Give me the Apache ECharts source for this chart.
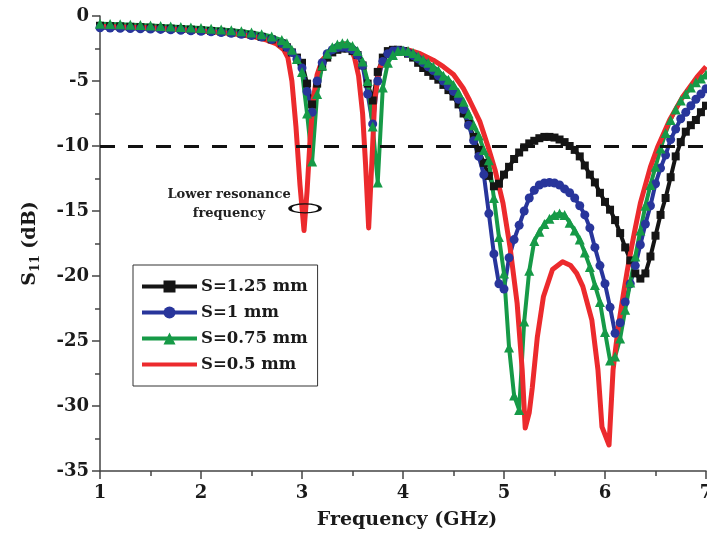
<!DOCTYPE html>
<html>
<head>
<meta charset="utf-8">
<script src="https://cdn.jsdelivr.net/npm/echarts@6/dist/echarts.min.js"></script>
<style>
  html, body { margin: 0; padding: 0; background: #fff; }
  #chart { width: 707px; height: 537px; }
</style>
</head>
<body>
<div id="chart"></div>
<script>
// frequency points (GHz) shared by the three marker curves
var freq = [1.0, 1.1, 1.2, 1.3, 1.4, 1.5, 1.6, 1.7, 1.8, 1.9, 2.0, 2.1, 2.2, 2.3, 2.4, 2.5, 2.6, 2.7, 2.8,
  2.85, 2.9, 2.95, 3.0, 3.05, 3.1, 3.15, 3.2, 3.25, 3.3, 3.35, 3.4, 3.45, 3.5, 3.55, 3.6, 3.65, 3.7, 3.75, 3.8, 3.85, 3.9, 3.95, 4.0,
  4.05, 4.1, 4.15, 4.2, 4.25, 4.3, 4.35, 4.4, 4.45, 4.5, 4.55, 4.6, 4.65, 4.7, 4.75, 4.8, 4.85, 4.9, 4.95, 5.0,
  5.05, 5.1, 5.15, 5.2, 5.25, 5.3, 5.35, 5.4, 5.45, 5.5, 5.55, 5.6, 5.65, 5.7, 5.75, 5.8, 5.85, 5.9, 5.95, 6.0,
  6.05, 6.1, 6.15, 6.2, 6.25, 6.3, 6.35, 6.4, 6.45, 6.5, 6.55, 6.6, 6.65, 6.7, 6.75, 6.8, 6.85, 6.9, 6.95, 7.0]

// S = 1.25 mm
var s125 = [-0.75, -0.78, -0.8, -0.83, -0.86, -0.9, -0.93, -0.97, -1.0, -1.05, -1.1, -1.15, -1.2, -1.27, -1.35, -1.45, -1.6, -1.8, -2.1,
  -2.4, -2.8, -3.2, -3.6, -5.2, -6.8, -5.2, -3.9, -3.2, -2.8, -2.6, -2.5, -2.5, -2.7, -3.0, -3.8, -5.2, -6.5, -4.3, -3.2, -2.7, -2.6, -2.6, -2.7,
  -2.9, -3.2, -3.6, -4.0, -4.3, -4.6, -4.9, -5.3, -5.7, -6.2, -6.8, -7.5, -8.3, -9.3, -10.3, -11.3, -12.3, -13.1, -12.9, -12.2,
  -11.6, -11.0, -10.5, -10.1, -9.8, -9.6, -9.4, -9.3, -9.3, -9.35, -9.5, -9.7, -10.0, -10.3, -10.8, -11.5, -12.2, -12.8, -13.6, -14.3,
  -14.9, -15.7, -16.7, -17.8, -18.8, -19.8, -20.2, -19.8, -18.5, -16.9, -15.3, -14.0, -12.4, -10.8, -9.7, -8.9, -8.4, -8.0, -7.4, -6.9]

// S = 1 mm
var s100 = [-0.9, -0.92, -0.94, -0.96, -0.98, -1.0, -1.03, -1.06, -1.1, -1.14, -1.18, -1.22, -1.27, -1.33, -1.4, -1.5, -1.62, -1.8, -2.1,
  -2.4, -2.8, -3.3, -4.0, -5.8, -7.4, -5.0, -3.6, -2.9, -2.6, -2.45, -2.4, -2.45, -2.6, -3.0, -3.8, -6.0, -8.3, -5.0, -3.5, -2.9, -2.7, -2.65, -2.7,
  -2.85, -3.05, -3.3, -3.6, -3.9, -4.2, -4.6, -5.0, -5.4, -5.8, -6.4, -7.2, -8.4, -9.6, -10.8, -12.2, -15.2, -18.3, -20.6, -21.0,
  -18.6, -17.2, -16.1, -15.0, -14.0, -13.4, -13.0, -12.85, -12.8, -12.85, -13.0, -13.3, -13.6, -14.0, -14.6, -15.3, -16.3, -17.8, -19.2, -20.6,
  -22.4, -24.4, -23.6, -22.0, -20.6, -19.2, -17.6, -16.0, -14.6, -12.9, -11.7, -10.7, -9.5, -8.7, -7.9, -7.4, -6.9, -6.4, -6.0, -5.6]

// S = 0.75 mm
var s075 = [-0.6, -0.62, -0.64, -0.67, -0.7, -0.73, -0.76, -0.8, -0.84, -0.88, -0.93, -0.98, -1.04, -1.1, -1.18, -1.27, -1.4, -1.58, -1.85,
  -2.1, -2.6, -3.3, -4.3, -7.5, -11.2, -6.0, -3.8, -2.9, -2.4, -2.2, -2.1, -2.1, -2.3, -2.7, -3.5, -5.0, -8.5, -12.8, -5.5, -3.6, -3.0, -2.7, -2.65,
  -2.7, -2.85, -3.1, -3.35, -3.6, -3.9, -4.2, -4.6, -4.9, -5.3, -5.9, -6.6, -7.5, -8.4, -9.2, -10.3, -11.1, -14.0, -17.0, -19.8,
  -25.5, -29.2, -30.3, -23.5, -19.6, -17.3, -16.6, -16.0, -15.6, -15.3, -15.2, -15.3, -15.9, -16.5, -17.2, -18.2, -19.3, -20.7, -22.0, -24.3,
  -26.5, -26.2, -24.8, -22.6, -20.5, -18.5, -16.5, -14.6, -13.0, -11.6, -10.2, -9.0, -8.0, -7.2, -6.5, -6.0, -5.5, -5.1, -4.8, -4.5]

// S = 0.5 mm (plain line, own frequency points)
var freq050 = [1.0, 1.5, 2.0, 2.3, 2.5, 2.65, 2.75, 2.82, 2.86, 2.9, 2.94, 2.98, 3.02, 3.05, 3.08, 3.11, 3.15, 3.2, 3.28, 3.35,
  3.42, 3.48, 3.52, 3.56, 3.6, 3.63, 3.66, 3.69, 3.72, 3.76, 3.82, 3.9, 3.97, 4.05, 4.17, 4.3, 4.4, 4.5, 4.6, 4.66,
  4.76, 4.84, 4.91, 4.99, 5.06, 5.13, 5.18, 5.21, 5.25, 5.28, 5.33, 5.39, 5.48, 5.58, 5.66, 5.72, 5.78, 5.87, 5.93, 5.97,
  6.04, 6.08, 6.13, 6.18, 6.22, 6.26, 6.3, 6.35, 6.45, 6.52, 6.64, 6.77, 6.91, 7.0]
var s050 = [-0.8, -0.9, -1.15, -1.35, -1.55, -1.85, -2.15, -2.6, -3.2, -5.0, -8.5, -13.0, -16.5, -13.5, -9.5, -6.5, -4.5, -3.4, -2.7, -2.3,
  -2.2, -2.5, -3.2, -4.6, -7.5, -11.5, -16.3, -11.5, -6.5, -4.2, -3.1, -2.65, -2.55, -2.6, -2.9, -3.4, -3.9, -4.5, -5.6, -6.5,
  -8.1, -10.0, -11.8, -14.4, -17.8, -22.1, -27.2, -31.7, -30.5, -28.6, -24.7, -21.6, -19.5, -18.9, -19.2, -19.8, -20.8, -23.4, -27.2, -31.6,
  -33.0, -27.2, -24.0, -21.5, -19.6, -17.9, -16.3, -14.4, -11.6, -10.1, -8.0, -6.2, -4.7, -3.9]

var seriesNames = ['S=1.25 mm', 'S=1 mm', 'S=0.75 mm', 'S=0.5 mm']
var threshold = -10
var notePoint = [3.03, -14.8]

function pairs (xs, ys) {
  return xs.map(function (x, i) { return [x, ys[i]] })
}

var serif = '"DejaVu Serif", "Liberation Serif", serif'

var chart = echarts.init(document.getElementById('chart'))
chart.setOption({
  backgroundColor: '#ffffff',
  animation: false,
  grid: {
    left: 100,
    right: 1,
    top: 16,
    bottom: 66,
    outerBoundsMode: 'none'
  },
  legend: {
    orient: 'vertical',
    left: 133,
    top: 265,
    padding: [13, 10, 13, 7],
    itemGap: 9,
    itemWidth: 55,
    itemHeight: 15,
    borderColor: '#333',
    borderWidth: 1,
    backgroundColor: '#fff',
    lineStyle: { width: 4 },
    textStyle: {
      fontFamily: serif,
      fontWeight: 'bold',
      fontSize: 16.5,
      color: '#1a1a1a',
      padding: [0, 0, 0, -1]
    },
    data: [
      { name: seriesNames[0] },
      { name: seriesNames[1] },
      { name: seriesNames[2] },
      { name: seriesNames[3], itemStyle: { opacity: 0 } }
    ]
  },
  xAxis: {
    type: 'value',
    min: 1,
    max: 7,
    interval: 1,
    name: 'Frequency (GHz)',
    nameLocation: 'middle',
    nameGap: 40,
    nameTextStyle: {
      fontFamily: serif,
      fontWeight: 'bold',
      fontSize: 19,
      color: '#1a1a1a',
      padding: [0, 0, 0, 8]
    },
    axisLine: { show: true, onZero: false, lineStyle: { color: '#444', width: 1.5 } },
    axisTick: { show: true, inside: false, length: 8, lineStyle: { color: '#444', width: 1.5 } },
    minorTick: { show: true, splitNumber: 2, length: 5, lineStyle: { color: '#444', width: 1.5 } },
    splitLine: { show: false },
    axisLabel: {
      fontFamily: serif,
      fontWeight: 'bold',
      fontSize: 18,
      color: '#1a1a1a',
      margin: 13
    }
  },
  yAxis: {
    type: 'value',
    min: -35,
    max: 0,
    interval: 5,
    name: '{s|S}{sub|11}{s| (dB)}',
    nameLocation: 'middle',
    nameGap: 58,
    nameTextStyle: {
      rich: {
        s: { fontFamily: serif, fontWeight: 'bold', fontSize: 19, color: '#1a1a1a' },
        sub: { fontFamily: serif, fontWeight: 'bold', fontSize: 12, color: '#1a1a1a', padding: [12, 0, 0, 0] }
      }
    },
    axisLine: { show: true, onZero: false, lineStyle: { color: '#444', width: 1.5 } },
    axisTick: { show: true, inside: false, length: 8, lineStyle: { color: '#444', width: 1.5 } },
    minorTick: { show: true, splitNumber: 2, length: 5, lineStyle: { color: '#444', width: 1.5 } },
    splitLine: { show: false },
    axisLabel: {
      fontFamily: serif,
      fontWeight: 'bold',
      fontSize: 18,
      color: '#1a1a1a',
      margin: 11
    }
  },
  series: [
    {
      name: seriesNames[0],
      type: 'line',
      data: pairs(freq, s125),
      symbol: 'rect',
      symbolSize: 8,
      showAllSymbol: true,
      color: '#151515',
      lineStyle: { width: 4, color: '#151515' },
      itemStyle: { color: '#151515' },
      markLine: {
        silent: true,
        symbol: 'none',
        label: { show: false },
        lineStyle: { color: '#111', width: 3, type: [15, 13] },
        data: [{ yAxis: threshold }]
      }
    },
    {
      name: seriesNames[1],
      type: 'line',
      data: pairs(freq, s100),
      symbol: 'circle',
      symbolSize: 9,
      showAllSymbol: true,
      color: '#28359b',
      lineStyle: { width: 4, color: '#28359b' },
      itemStyle: { color: '#28359b' }
    },
    {
      name: seriesNames[2],
      type: 'line',
      data: pairs(freq, s075),
      symbol: 'triangle',
      symbolSize: 10,
      showAllSymbol: true,
      color: '#169a47',
      lineStyle: { width: 4, color: '#169a47' },
      itemStyle: { color: '#169a47' }
    },
    {
      name: seriesNames[3],
      type: 'line',
      data: pairs(freq050, s050),
      symbol: 'none',
      color: '#ec2a2d',
      lineStyle: { width: 5, color: '#ec2a2d', join: 'round' },
      itemStyle: { color: '#ec2a2d' },
      markPoint: {
        silent: true,
        symbol: 'circle',
        symbolSize: [30, 9],
        itemStyle: { color: 'rgba(0,0,0,0)', borderColor: '#111', borderWidth: 2 },
        label: {
          show: true,
          position: 'inside',
          offset: [-76, -4],
          align: 'center',
          formatter: 'Lower resonance\nfrequency',
          fontFamily: serif,
          fontWeight: 'bold',
          fontSize: 13,
          lineHeight: 19,
          color: '#222'
        },
        data: [{ coord: notePoint }]
      }
    }
  ]
})
</script>
</body>
</html>
